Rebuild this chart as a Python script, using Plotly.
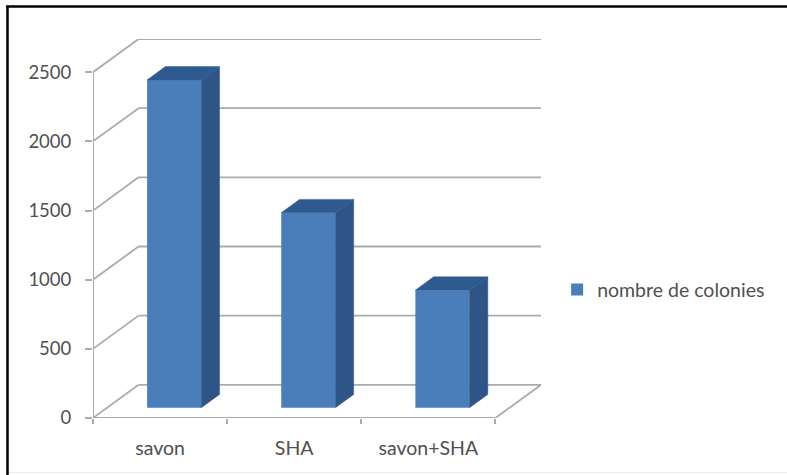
import plotly.graph_objects as go

# Chart data
categories = ["savon", "SHA", "savon+SHA"]
colonies = [2370, 1410, 850]
y_ticks = [0, 500, 1000, 1500, 2000, 2500]
series_name = "nombre de colonies"

# Oblique projection of the 3D box, in axis units
DEPTH_X = 0.34    # horizontal shift of the back wall, in categories
DEPTH_Y = 240     # vertical shift of the back wall, in colonies
BAR_WIDTH = 0.404
BAR_NEAR = 0.31   # depth fraction of the bar's front face
BAR_FAR = 0.71    # depth fraction of the bar's back face

FRONT = "#4a7ebb"
SIDE = "#2f5486"
TOP = "#2e5a90"
WALL = "#ababab"
TEXT = "#505050"
FONT = "Lato, Open Sans, sans-serif"

# Page geometry in pixels
WIDTH, HEIGHT = 787, 475
LEFT, RIGHT, TOP_M, BOTTOM = 93, 246, 39, 57
PLOT_W = WIDTH - LEFT - RIGHT
PLOT_H = HEIGHT - TOP_M - BOTTOM


def project(x, value, depth):
    """Map a point of the box to flat axis coordinates."""
    return x + depth * DEPTH_X, value + depth * DEPTH_Y


def line_shape(p, q, color=WALL, width=1.8):
    return dict(type="line", xref="x", yref="y", layer="below",
                x0=p[0], y0=p[1], x1=q[0], y1=q[1],
                line=dict(color=color, width=width))


def page_line(x0, y0, x1, y1, color, width):
    """A line given in page pixels, for the frame round the chart."""
    return dict(type="line", xref="paper", yref="paper",
                x0=(x0 - LEFT) / PLOT_W, x1=(x1 - LEFT) / PLOT_W,
                y0=(HEIGHT - BOTTOM - y0) / PLOT_H, y1=(HEIGHT - BOTTOM - y1) / PLOT_H,
                line=dict(color=color, width=width))


def polygon(points, color):
    xs, ys = zip(*(points + points[:1]))
    return go.Scatter(x=xs, y=ys, mode="lines", fill="toself", fillcolor=color,
                      line=dict(color=color, width=0.5), hoverinfo="skip",
                      showlegend=False)


n = len(categories)
shapes = []
# Left wall and back wall grid lines
for tick in y_ticks:
    shapes.append(line_shape(project(0, tick, 0), project(0, tick, 1)))
    shapes.append(line_shape(project(0, tick, 1), project(n, tick, 1)))
# Floor edges and the vertical axis
shapes.append(line_shape(project(n, 0, 0), project(n, 0, 1)))
shapes.append(line_shape(project(0, 0, 0), project(n, 0, 0), width=2))
shapes.append(line_shape(project(0, 0, 0), project(0, y_ticks[-1], 0), width=2))
# Frame: heavy on the top and left, faint along the bottom
shapes.append(page_line(7.5, 6.5, 7.5, HEIGHT, "#000000", 2.5))
shapes.append(page_line(6, 6.5, WIDTH, 6.5, "#000000", 2.5))
shapes.append(page_line(9, 472.5, WIDTH, 472.5, "#ececec", 1))

centres = [i + 0.5 for i in range(n)]
fig = go.Figure()

# Front faces stand on the floor, part way into the box
front_x = [project(c, 0, BAR_NEAR)[0] for c in centres]
floor = project(0, 0, BAR_NEAR)[1]
fig.add_trace(go.Bar(x=front_x, y=colonies, base=floor, width=BAR_WIDTH,
                     marker=dict(color=FRONT, line=dict(width=0)),
                     name=series_name, showlegend=True,
                     hovertext=categories))

# Side and top faces of each bar
for c, v in zip(centres, colonies):
    left, right = c - BAR_WIDTH / 2, c + BAR_WIDTH / 2
    fig.add_trace(polygon([project(right, 0, BAR_NEAR), project(right, v, BAR_NEAR),
                           project(right, v, BAR_FAR), project(right, 0, BAR_FAR)], SIDE))
    fig.add_trace(polygon([project(left, v, BAR_NEAR), project(right, v, BAR_NEAR),
                           project(right, v, BAR_FAR), project(left, v, BAR_FAR)], TOP))

fig.update_layout(
    width=WIDTH, height=HEIGHT,
    margin=dict(l=LEFT, r=RIGHT, t=TOP_M, b=BOTTOM),
    paper_bgcolor="white", plot_bgcolor="white",
    font=dict(family=FONT, color=TEXT, size=15),
    shapes=shapes,
    legend=dict(x=1.036, y=0.338, xanchor="left", yanchor="middle",
                bgcolor="rgba(0,0,0,0)", font=dict(size=19.5, family=FONT, color=TEXT),
                itemwidth=30),
    xaxis=dict(range=[0, n + DEPTH_X], showgrid=False, zeroline=False, showline=False,
               tickvals=centres, ticktext=categories, ticks="", ticklabelstandoff=16,
               tickfont=dict(size=19.5, family=FONT, color=TEXT),
               minor=dict(tickvals=list(range(n + 1)), ticks="outside", ticklen=5,
                          tickcolor=WALL, tickwidth=1.8)),
    yaxis=dict(range=[0, y_ticks[-1] + DEPTH_Y], showgrid=False, zeroline=False, showline=False,
               tickvals=y_ticks, ticks="outside", ticklen=7, tickcolor=WALL, tickwidth=1.8,
               ticklabelstandoff=10, tickfont=dict(size=18.5, family=FONT, color=TEXT)),
)

fig.write_html("out.html")
